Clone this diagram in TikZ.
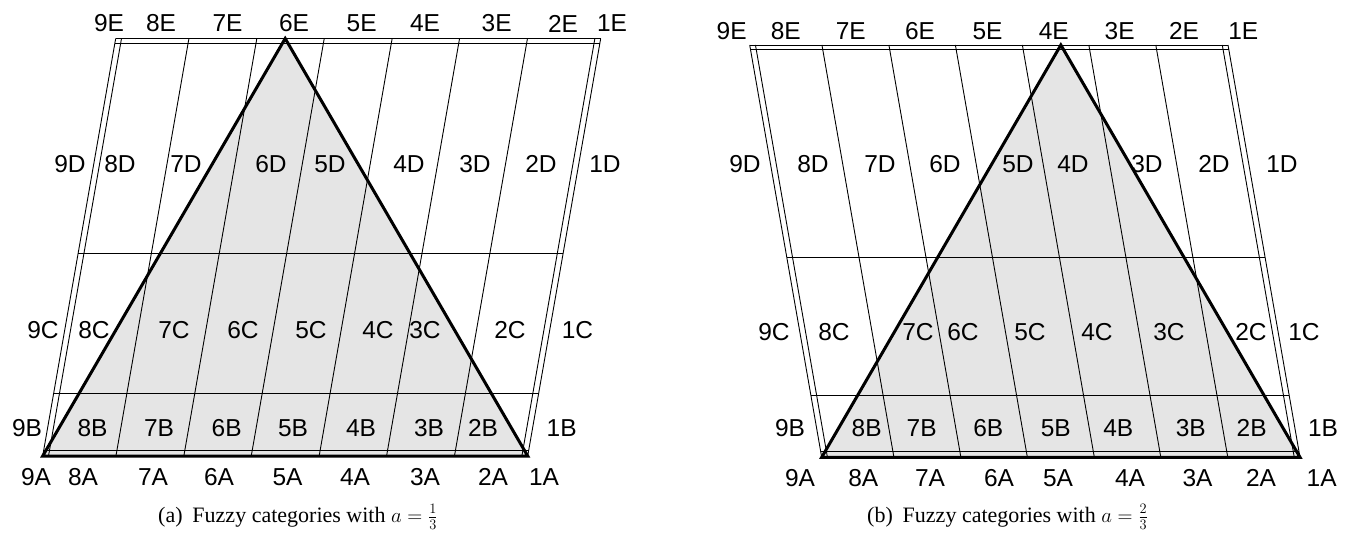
\documentclass[tikz,border=0pt]{standalone}
\usepackage{fontspec}
\setmainfont{Liberation Serif}
\newfontfamily\labfont{Liberation Sans}
\tikzset{
  gridline/.style={line width=0.9pt, black},
  triedge/.style={line width=3pt, black, line join=miter},
  trifill/.style={fill=black!10},
  lbl/.style={font=\labfont\fontsize{24.5}{28}\selectfont, inner sep=0pt},
  capt/.style={font=\fontsize{22}{26}\selectfont, inner sep=0pt, anchor=base west}
}
% #1 x0, #2 x1, #3 yb, #4 yt, #5 sign of shear, #6 name prefix
\newcommand\fuzzypanel[6]{%
  \pgfmathsetmacro\pW{#2-#1}%
  \pgfmathsetmacro\pH{#3-#4}%
  \pgfmathsetmacro\pS{#5*0.1505*\pW}%
  \coordinate (#6L) at (#1,#3);
  \coordinate (#6R) at (#2,#3);
  \coordinate (#6T) at ({(#1+#2)/2},#4);
  \fill[trifill] (#6L) -- (#6R) -- (#6T) -- cycle;
  \foreach \f in {0,0.012,0.151,0.291,0.430,0.570,0.709,0.849,0.988,1}{
    \draw[gridline] ({#1+\f*\pW},#3) -- ({#1+\f*\pW+\pS},#4);
  }
  \foreach \t in {0,0.0144,0.15,0.484,0.989,1}{
    \draw[gridline] ({#1+\pS*\t},{#3-\t*\pH}) -- ({#2+\pS*\t},{#3-\t*\pH});
  }
  \draw[triedge] (#6L) -- (#6R) -- (#6T) -- cycle;
}
\begin{document}
\begin{tikzpicture}[x=1pt,y=-1pt]
\useasboundingbox (0,0) rectangle (1350,533);
\fuzzypanel{42.7}{527.7}{456}{38.5}{1}{a}
\fuzzypanel{821.7}{1300}{457.3}{45}{-1}{b}

% panel (a) labels
\foreach \n/\x in {9/109,8/161,7/227.5,6/294,5/361.7,4/425,3/496.7,2/563,1/612}
  \node[lbl] (aE\n) at (\x,23.5) {\n E};
\foreach \n/\x in {9/70,8/120,7/186,6/271,5/330,4/409,3/475,2/541,1/605}
  \node[lbl] (aD\n) at (\x,164) {\n D};
\foreach \n/\x in {9/43,8/94,7/174,6/243,5/311,4/378,3/425,2/510,1/577.5}
  \node[lbl] (aC\n) at (\x,330) {\n C};
\foreach \n/\x in {9/27,8/92.5,7/159,6/226.7,5/293,4/361,3/429,2/483,1/561.7}
  \node[lbl] (aB\n) at (\x,428) {\n B};
\foreach \n/\x in {9/36,8/83,7/153,6/219,5/287.5,4/355,3/425,2/493,1/544}
  \node[lbl] (aA\n) at (\x,477) {\n A};

% panel (b) labels
\foreach \n/\x in {9/731.7,8/785.8,7/850.8,6/920,5/987.5,4/1053.8,3/1119.7,2/1184,1/1243.3}
  \node[lbl] (bE\n) at (\x,31) {\n E};
\foreach \n/\x in {9/745,8/813,7/880,6/945,5/1018,4/1073,3/1147,2/1214,1/1282}
  \node[lbl] (bD\n) at (\x,164) {\n D};
\foreach \n/\x in {9/774,8/834,7/918,6/963,5/1030,4/1097,3/1169,2/1251,1/1304}
  \node[lbl] (bC\n) at (\x,332) {\n C};
\foreach \n/\x in {9/790,8/866.7,7/921.7,6/988.3,5/1055.8,4/1118.3,3/1190.8,2/1251.7,1/1323}
  \node[lbl] (bB\n) at (\x,428) {\n B};
\foreach \n/\x in {9/800,8/863.3,7/930,6/999,5/1058,4/1130,3/1197.5,2/1261,1/1321.7}
  \node[lbl] (bA\n) at (\x,478) {\n A};

\node[capt] (capa) at (158,522) {(a)\hspace{0.45em}Fuzzy categories with $a=\frac{1}{3}$};
\node[capt] (capb) at (867,522) {(b)\hspace{0.45em}Fuzzy categories with $a=\frac{2}{3}$};
\end{tikzpicture}
\end{document}
